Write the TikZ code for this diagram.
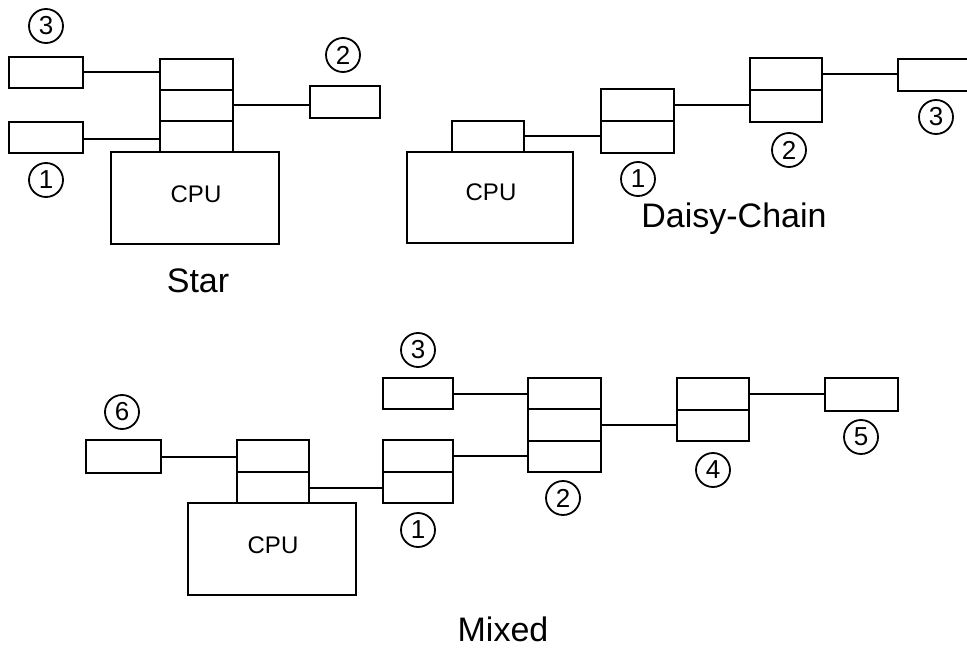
\documentclass[tikz,border=0pt]{standalone}
\usepackage{fontspec}
\setmainfont{Liberation Sans}
\begin{document}
\begin{tikzpicture}[x=1pt,y=-1pt,
  box/.style={draw, line width=2pt, inner sep=0pt, outer sep=0pt},
  num/.style={draw, circle, line width=1.8pt, minimum size=34pt, inner sep=0pt, font=\fontsize{26}{26}\selectfont},
  cputext/.style={font=\fontsize{24}{24}\selectfont},
  title/.style={font=\fontsize{34}{34}\selectfont},
  wire/.style={line width=2pt}]
\clip (0,0) rectangle (967,650);
\fill[white] (0,0) rectangle (967,650);
% ---------- Star ----------
\node[box, minimum width=74pt, minimum height=31pt] (s3) at (46,72.5) {};
\node[box, minimum width=74pt, minimum height=31pt] (s1) at (46,137.5) {};
\node[box, minimum width=73pt, minimum height=31pt] (sa) at (196.5,74.5) {};
\node[box, minimum width=73pt, minimum height=31pt] (sb) at (196.5,105.5) {};
\node[box, minimum width=73pt, minimum height=31pt] (sc) at (196.5,136.5) {};
\node[box, minimum width=70pt, minimum height=32pt] (s2) at (345,102) {};
\node[box, minimum width=168pt, minimum height=92pt] (scpu) at (195,198) {};
\node[cputext] (scput) at (196,194) {CPU};
\node[num] (sc3) at (46,26) {3};
\node[num] (sc1) at (46,180) {1};
\node[num] (sc2) at (343,55) {2};
\node[title] (star) at (198,281) {Star};
\draw[wire] (s3.east) -- (s3.east -| sa.west);
\draw[wire] ([yshift=-2pt]s1.east) -- ([yshift=-2pt]s1.east -| sc.west);
\draw[wire] (sb.east) -- (sb.east -| s2.west);
% ---------- Daisy-Chain ----------
\node[box, minimum width=166pt, minimum height=91pt] (dcpu) at (490,197.5) {};
\node[cputext] (dcput) at (491,192) {CPU};
\node[box, minimum width=72pt, minimum height=31pt] (dport) at (488,136.5) {};
\node[box, minimum width=73pt, minimum height=32pt] (d1a) at (637.5,105) {};
\node[box, minimum width=73pt, minimum height=32pt] (d1b) at (637.5,137) {};
\node[box, minimum width=72pt, minimum height=32pt] (d2a) at (786,74) {};
\node[box, minimum width=72pt, minimum height=32pt] (d2b) at (786,106) {};
\node[box, minimum width=74pt, minimum height=32pt] (d3) at (935,75) {};
\node[num] (dc1) at (638,179) {1};
\node[num] (dc2) at (789,150) {2};
\node[num] (dc3) at (936,117) {3};
\node[title] (daisy) at (734,219) {Daisy-Chain};
\draw[wire] (dport.east) -- (dport.east -| d1b.west);
\draw[wire] (d1a.east) -- (d1a.east -| d2b.west);
\draw[wire] (d2a.east) -- (d2a.east -| d3.west);
% ---------- Mixed ----------
\node[box, minimum width=75pt, minimum height=33pt] (m6) at (123.5,456.5) {};
\node[box, minimum width=72pt, minimum height=32pt] (mca) at (273,456) {};
\node[box, minimum width=72pt, minimum height=31pt] (mcb) at (273,487.5) {};
\node[box, minimum width=168pt, minimum height=92pt] (mcpu) at (272,549) {};
\node[cputext] (mcput) at (273,545) {CPU};
\node[box, minimum width=70pt, minimum height=31pt] (m3) at (418,393.5) {};
\node[box, minimum width=70pt, minimum height=32pt] (m1a) at (418,456) {};
\node[box, minimum width=70pt, minimum height=31pt] (m1b) at (418,487.5) {};
\node[box, minimum width=73pt, minimum height=31pt] (m2a) at (564.5,393.5) {};
\node[box, minimum width=73pt, minimum height=32pt] (m2b) at (564.5,425) {};
\node[box, minimum width=73pt, minimum height=31pt] (m2c) at (564.5,456.5) {};
\node[box, minimum width=72pt, minimum height=32pt] (m4a) at (713,394) {};
\node[box, minimum width=72pt, minimum height=31pt] (m4b) at (713,425.5) {};
\node[box, minimum width=73pt, minimum height=33pt] (m5) at (861.5,394.5) {};
\node[num] (mc6) at (122,412) {6};
\node[num] (mc3) at (418,350) {3};
\node[num] (mc1) at (418,530) {1};
\node[num] (mc2) at (563,498) {2};
\node[num] (mc4) at (713,470) {4};
\node[num] (mc5) at (861,437) {5};
\node[title] (mixed) at (503,629) {Mixed};
\draw[wire] (m6.east) -- (m6.east -| mca.west);
\draw[wire] (mcb.east) -- (mcb.east -| m1b.west);
\draw[wire] (m3.east) -- (m3.east -| m2a.west);
\draw[wire] (m1a.east) -- (m1a.east -| m2c.west);
\draw[wire] (m2b.east) -- (m2b.east -| m4b.west);
\draw[wire] (m4a.east) -- (m4a.east -| m5.west);
\end{tikzpicture}
\end{document}
